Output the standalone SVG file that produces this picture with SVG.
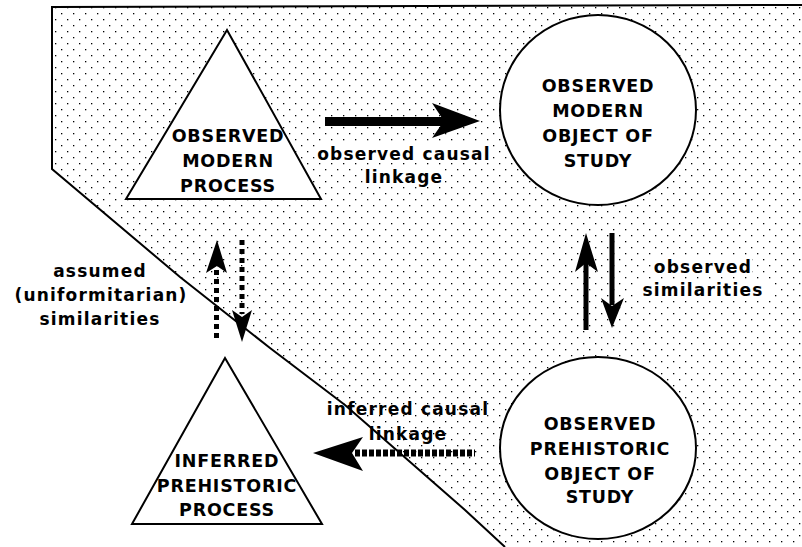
<svg xmlns="http://www.w3.org/2000/svg" width="802" height="547" viewBox="0 0 802 547">
<defs>
<pattern id="dots" width="12" height="12" patternUnits="userSpaceOnUse">
<rect x="1" y="1" width="1.3" height="1.3" fill="#000"/>
<rect x="7" y="7" width="1.3" height="1.3" fill="#000"/>
</pattern>
<style>
.node{fill:#fff;stroke:#000;stroke-width:2}
.cap{font-family:"DejaVu Sans",sans-serif;font-weight:bold;font-size:17.5px;letter-spacing:0.8px;text-anchor:middle;fill:#000}
.lab{font-family:"DejaVu Sans",sans-serif;font-weight:bold;font-size:17px;letter-spacing:1.2px;text-anchor:middle;fill:#000}
.bg{fill:#fff}
.solid{stroke:#000;fill:none}
.dash{stroke:#000;fill:none;stroke-dasharray:5 4}
</style>
</defs>
<rect width="802" height="547" fill="#fff"/>
<g id="shaded-region">
<polygon points="52,7 802,5 802,547 505,547 465,510 345,405 270,348 180,277 52,169" fill="url(#dots)"/>
<polyline points="802,5 52,7 52,169 180,277 270,348 345,405 465,510 505,547" fill="none" stroke="#000" stroke-width="2"/>
</g>
<g id="observed-modern-process">
<polygon class="node" points="227,30 126,199 321,199"/>
<text class="cap" x="228" y="142">OBSERVED</text>
<text class="cap" x="228" y="167">MODERN</text>
<text class="cap" x="228" y="192">PROCESS</text>
</g>
<g id="observed-modern-object">
<ellipse class="node" cx="598" cy="110" rx="98" ry="95"/>
<text class="cap" x="598" y="92">OBSERVED</text>
<text class="cap" x="598" y="117">MODERN</text>
<text class="cap" x="598" y="142">OBJECT OF</text>
<text class="cap" x="598" y="167">STUDY</text>
</g>
<g id="observed-prehistoric-object">
<ellipse class="node" cx="598" cy="448" rx="98" ry="91"/>
<text class="cap" x="600" y="430">OBSERVED</text>
<text class="cap" x="600" y="455">PREHISTORIC</text>
<text class="cap" x="600" y="480">OBJECT OF</text>
<text class="cap" x="600" y="503">STUDY</text>
</g>
<g id="inferred-prehistoric-process">
<polygon class="node" points="225,358 132,524 322,524"/>
<text class="cap" x="227" y="467">INFERRED</text>
<text class="cap" x="227" y="492">PREHISTORIC</text>
<text class="cap" x="227" y="516">PROCESS</text>
</g>
<g id="connectors">
<line class="solid" x1="325" y1="121.5" x2="446" y2="121.5" stroke-width="9"/>
<polygon points="432,103 480,121 432,138 444,121" fill="#000"/>
<line class="solid" x1="586" y1="258" x2="586" y2="330" stroke-width="5"/>
<polygon points="586,233 598,272 586,263 575,272" fill="#000"/>
<line class="solid" x1="612" y1="233" x2="612" y2="305" stroke-width="5"/>
<polygon points="612,328 624,298 612,306 601,298" fill="#000"/>
<line class="dash" x1="216.5" y1="270" x2="216.5" y2="338" stroke-width="5"/>
<polygon points="217,240 227,273 217,266 206,273" fill="#000"/>
<line class="dash" x1="242" y1="240" x2="242" y2="314" stroke-width="5"/>
<polygon points="242,342 252,310 242,317 232,310" fill="#000"/>
<line class="dash" x1="355" y1="453" x2="475" y2="453" stroke-width="7" style="stroke-dasharray:5 2"/>
<polygon points="313,453 363,437 352,453 363,471" fill="#000"/>
</g>
<g id="labels">
<rect class="bg" x="316" y="145" width="176" height="18"/>
<text class="lab" x="404" y="160">observed causal</text>
<rect class="bg" x="364" y="168" width="81" height="19"/>
<text class="lab" x="404" y="183">linkage</text>
<rect class="bg" x="654" y="258" width="98" height="18"/>
<text class="lab" x="703" y="273">observed</text>
<rect class="bg" x="635" y="281" width="137" height="19"/>
<text class="lab" x="703" y="296">similarities</text>
<text class="lab" x="100" y="277">assumed</text>
<text class="lab" x="101" y="301">(uniformitarian)</text>
<text class="lab" x="100" y="325">similarities</text>
<text class="lab" x="408" y="415">inferred causal</text>
<text class="lab" x="408" y="440">linkage</text>
</g>
</svg>
